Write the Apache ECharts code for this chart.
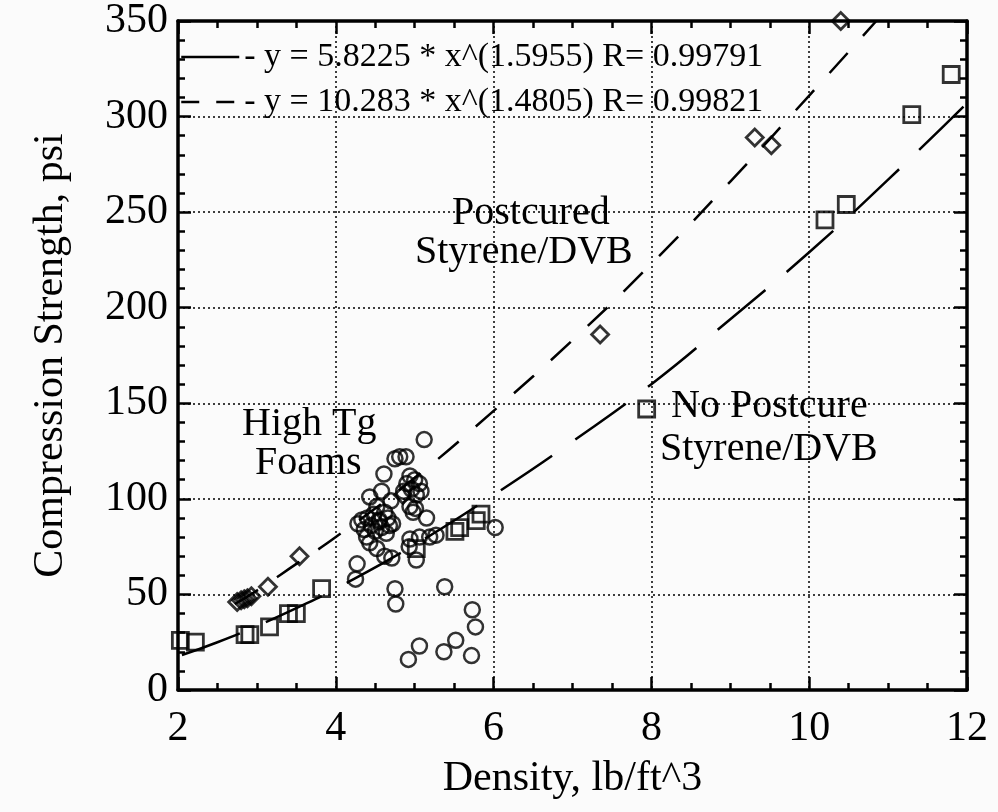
<!DOCTYPE html>
<html>
<head>
<meta charset="utf-8">
<script src="https://cdn.jsdelivr.net/npm/echarts@6/dist/echarts.min.js"></script>
<style>
  html, body { margin: 0; padding: 0; background: #fbfbfb; }
  #chart { width: 998px; height: 812px; }
</style>
</head>
<body>
<div id="chart"></div>
<script>
// tick labels
const xTicks = [2, 4, 6, 8, 10, 12];
const yTicks = [0, 50, 100, 150, 200, 250, 300, 350];

// Postcured Styrene/DVB (diamonds)
const postX = [2.75, 2.80, 2.84, 2.88, 2.93, 3.14, 3.54, 4.85, 7.35, 9.31, 9.52, 10.40];
const postY = [46, 47, 47.5, 48, 49, 54, 70, 102, 186, 289, 285, 350];

// No Postcure Styrene/DVB (squares)
const noPostX = [2.03, 2.22, 2.85, 2.91, 3.16, 3.40, 3.50, 3.82, 5.02, 5.51, 5.57, 5.78, 5.84, 7.94, 10.20, 10.47, 11.30, 11.80];
const noPostY = [26, 25, 29, 29, 33, 40, 40, 53, 74, 83, 85, 88.6, 92, 147, 246, 254, 301, 322];

// High Tg foams (circles)
const hiTgX = [5.12, 4.75, 4.81, 4.89, 4.61, 4.94, 5.00, 5.06, 4.90, 4.96, 5.08, 5.02, 4.86, 4.58, 4.43,
  4.70, 4.52, 4.94, 5.01, 4.98, 5.15, 4.62, 4.48, 4.40, 4.55, 4.33, 4.66, 4.28, 4.45, 4.58,
  4.72, 4.36, 4.50, 4.64, 4.39, 4.52, 4.43, 4.62, 4.71, 4.27, 4.25, 4.94, 5.06, 5.19, 5.27,
  4.93, 5.02, 4.75, 4.76, 5.38, 5.73, 5.77, 5.52, 5.37, 5.72, 5.06, 4.92, 6.02, 4.55, 4.68];
const hiTgY = [131, 121, 122, 122, 113, 112, 110, 108, 108, 105, 104, 102, 104, 104, 101,
  99, 96, 96, 95, 93, 90, 93, 92, 90, 89, 89, 90, 87, 86, 85,
  87, 84, 83, 82, 80, 74, 77, 70, 69, 66, 58, 79, 80, 80, 81,
  75, 68, 53, 45, 54, 42, 33, 26, 20, 18, 23, 16, 85, 88, 86];

// fit curves
const fitNoPostX = [2.05, 2.5, 3, 3.5, 4, 5, 6, 7, 8, 9, 10, 11, 12];
const fitNoPostY = [18.3, 25, 33.5, 42.8, 53, 76, 102, 130, 160, 194, 229, 267, 307];
const fitPostX = [2.72, 3, 3.5, 4, 5, 6, 7, 8, 9, 10, 10.85];
const fitPostY = [45, 52, 66, 80, 111, 146, 183, 223, 266, 311, 350];

const legendNoPost = '- y = 5.8225 * x^(1.5955) R= 0.99791';
const legendPost = '- y = 10.283 * x^(1.4805) R= 0.99821';

const zip = (xs, ys) => xs.map((x, i) => [x, ys[i]]);
const serif = '"Liberation Serif", "DejaVu Serif", serif';

const chart = echarts.init(document.getElementById('chart'));

const axisCommon = {
  type: 'value',
  axisLine: { show: true, onZero: false, lineStyle: { color: '#000', width: 3.5 } },
  axisTick: { show: true, inside: true, length: 13, lineStyle: { color: '#000', width: 2.5 } },
  minorTick: { show: true, length: 7, lineStyle: { color: '#000', width: 2.5 } },
};

const option = {
  backgroundColor: '#fbfbfb',
  animation: false,
  color: ['#000'],
  textStyle: { fontFamily: serif, color: '#000' },
  grid: { left: 178, right: 31, top: 17, bottom: 122 },
  legend: {
    orient: 'vertical',
    left: 175,
    top: 34,
    itemWidth: 58,
    itemHeight: 14,
    itemGap: 9,
    textStyle: { fontSize: 34, fontFamily: serif, color: '#000', lineHeight: 36 },
    data: [
      {
        name: legendNoPost,
        itemStyle: { opacity: 0 },
        lineStyle: { type: 'solid', width: 2.5, color: '#000' },
      },
      {
        name: legendPost,
        itemStyle: { opacity: 0 },
        lineStyle: { type: [18, 17], width: 2.5, color: '#000' },
      },
    ],
  },
  xAxis: [
    {
      ...axisCommon,
      position: 'bottom',
      min: 2, max: 12, interval: 2,
      minorTick: { ...axisCommon.minorTick, splitNumber: 4 },
      splitLine: { show: true, lineStyle: { type: [2, 3], color: '#000', width: 1.5 } },
      axisLabel: {
        fontSize: 42, fontFamily: serif, color: '#000', margin: 18,
        formatter: v => (xTicks.includes(v) ? String(v) : ''),
      },
      name: 'Density, lb/ft^3',
      nameLocation: 'middle',
      nameGap: 68,
      nameTextStyle: { fontSize: 42, fontFamily: serif, color: '#000' },
    },
    {
      ...axisCommon,
      position: 'top',
      min: 2, max: 12, interval: 2,
      minorTick: { ...axisCommon.minorTick, splitNumber: 4 },
      splitLine: { show: false },
      axisLabel: { show: false },
    },
  ],
  yAxis: [
    {
      ...axisCommon,
      position: 'left',
      min: 0, max: 350, interval: 50,
      minorTick: { ...axisCommon.minorTick, splitNumber: 5 },
      splitLine: { show: true, lineStyle: { type: [2, 3], color: '#000', width: 1.5 } },
      axisLabel: {
        fontSize: 42, fontFamily: serif, color: '#000', margin: 10,
        formatter: v => (yTicks.includes(v) ? String(v) : ''),
      },
      name: 'Compression Strength, psi',
      nameLocation: 'middle',
      nameGap: 106,
      nameTextStyle: { fontSize: 42, fontFamily: serif, color: '#000' },
    },
    {
      ...axisCommon,
      position: 'right',
      min: 0, max: 350, interval: 50,
      minorTick: { ...axisCommon.minorTick, splitNumber: 5 },
      splitLine: { show: false },
      axisLabel: { show: false },
    },
  ],
  graphic: [
    { type: 'text', left: 452, top: 193, style: { text: 'Postcured', font: '40px ' + serif, fill: '#000' } },
    { type: 'text', left: 415, top: 232, style: { text: 'Styrene/DVB', font: '40px ' + serif, fill: '#000' } },
    { type: 'text', left: 242, top: 404, style: { text: 'High Tg', font: '40px ' + serif, fill: '#000' } },
    { type: 'text', left: 255, top: 443, style: { text: 'Foams', font: '40px ' + serif, fill: '#000' } },
    { type: 'text', left: 671, top: 386, style: { text: 'No Postcure', font: '40px ' + serif, fill: '#000' } },
    { type: 'text', left: 660, top: 429, style: { text: 'Styrene/DVB', font: '40px ' + serif, fill: '#000' } },
  ],
  series: [
    {
      name: legendNoPost,
      type: 'line',
      data: zip(fitNoPostX, fitNoPostY),
      smooth: true,
      symbol: 'none',
      itemStyle: { color: '#000' },
      lineStyle: { color: '#000', width: 2.5, type: [62, 28] },
      z: 2,
    },
    {
      name: legendPost,
      type: 'line',
      data: zip(fitPostX, fitPostY),
      smooth: true,
      symbol: 'none',
      itemStyle: { color: '#000' },
      lineStyle: { color: '#000', width: 2.5, type: [27, 23] },
      z: 2,
    },
    {
      name: 'High Tg Foams',
      type: 'scatter',
      data: zip(hiTgX, hiTgY),
      symbol: 'circle',
      symbolSize: 15,
      itemStyle: { color: 'rgba(0,0,0,0)', borderColor: '#000', borderWidth: 2.5 },
      z: 3,
    },
    {
      name: 'No Postcure',
      type: 'scatter',
      data: zip(noPostX, noPostY),
      symbol: 'rect',
      symbolSize: 16,
      itemStyle: { color: 'rgba(0,0,0,0)', borderColor: '#000', borderWidth: 2.8 },
      z: 3,
    },
    {
      name: 'Postcured',
      type: 'scatter',
      data: zip(postX, postY),
      symbol: 'diamond',
      symbolSize: 17,
      itemStyle: { color: 'rgba(0,0,0,0)', borderColor: '#000', borderWidth: 2.8 },
      z: 3,
    },
  ],
};

chart.setOption(option);
</script>
</body>
</html>
